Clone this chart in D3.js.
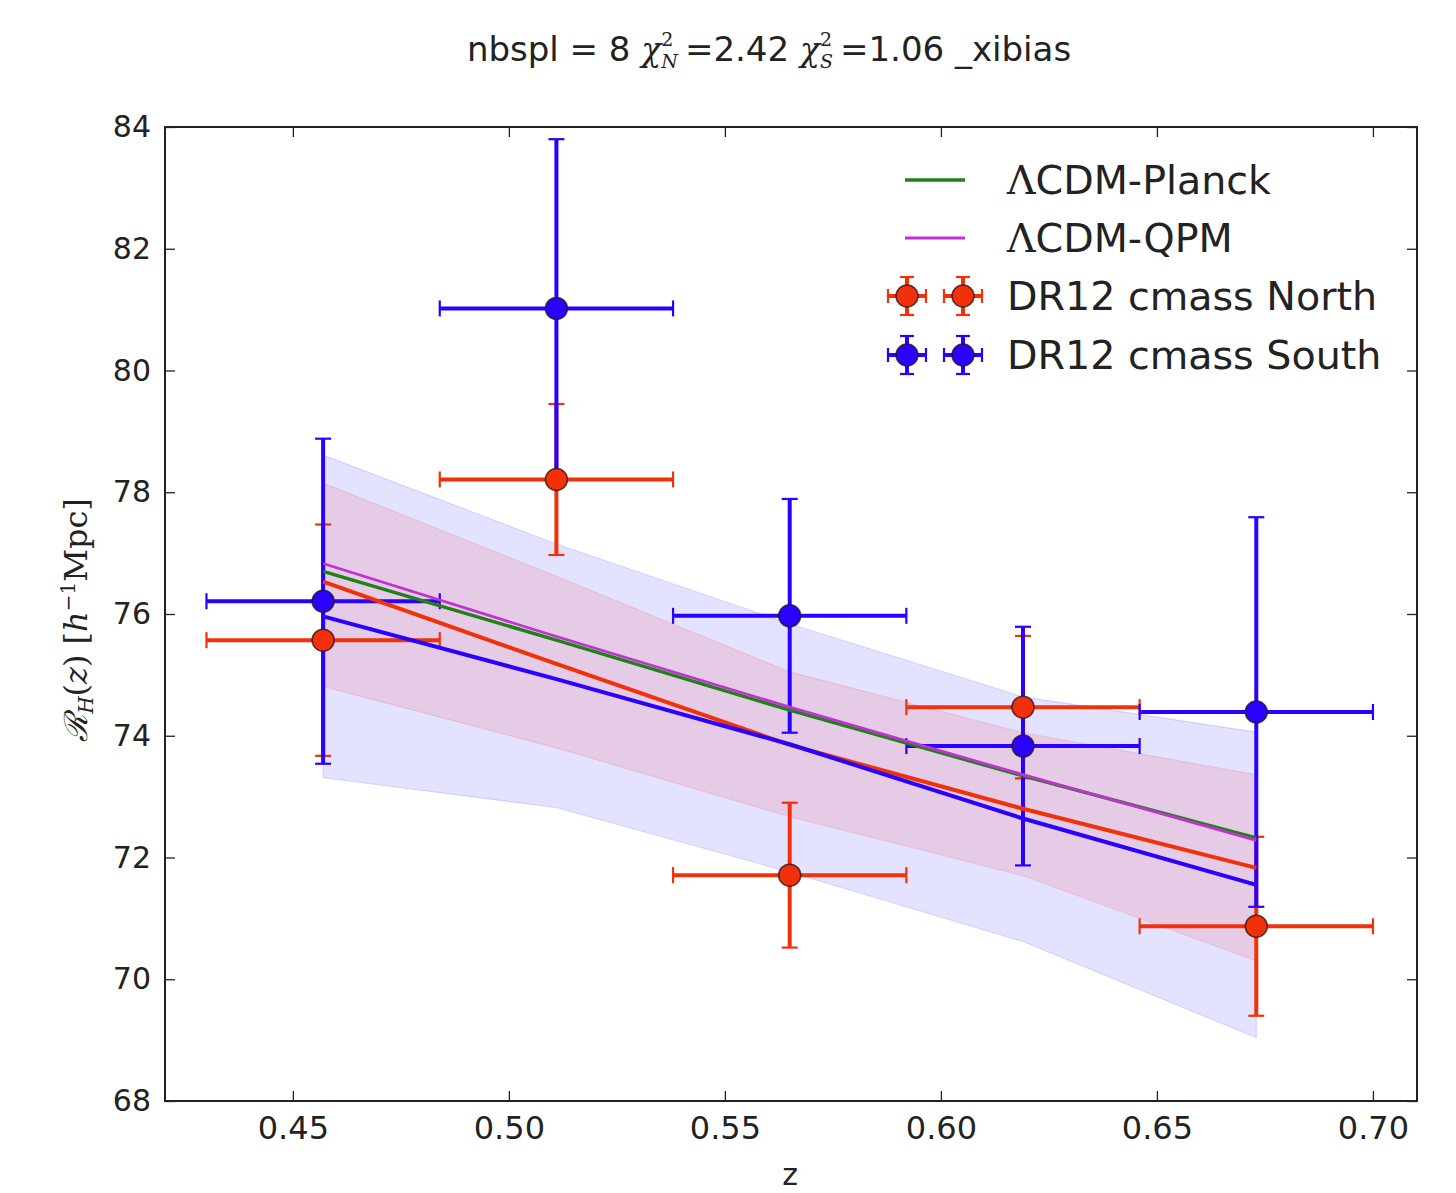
<!DOCTYPE html>
<html>
<head>
<meta charset="utf-8">
<script src="https://cdn.jsdelivr.net/npm/d3@7/dist/d3.min.js"></script>
<style>
  html, body { margin: 0; padding: 0; background: #fff; }
  svg { display: block; }
  text { white-space: pre; }
</style>
</head>
<body>
<svg id="chart" width="1456" height="1193"></svg>
<script>
// ---------------- data ----------------
const zBins = [0.457, 0.511, 0.565, 0.619, 0.673];
const zHalfWidth = [0.027, 0.027, 0.027, 0.027, 0.027];

const northValues = [75.57, 78.21, 71.71, 74.47, 70.87];
const northErrors = [1.90, 1.24, 1.19, 1.17, 1.47];
const southValues = [76.21, 81.02, 75.97, 73.83, 74.39];
const southErrors = [2.67, 2.78, 1.92, 1.96, 3.20];

const planckModel = [76.70, 75.57, 74.42, 73.34, 72.32];
const qpmModel    = [76.83, 75.63, 74.47, 73.36, 72.28];
const northFit    = [76.53, 75.18, 73.85, 72.80, 71.83];
const southFit    = [75.96, 74.93, 73.86, 72.64, 71.55];

const southBandLow  = [73.31, 72.82, 71.76, 70.62, 69.04];
const southBandHigh = [78.61, 77.15, 75.84, 74.64, 74.06];
const northBandLow  = [74.81, 73.80, 72.67, 71.70, 70.30];
const northBandHigh = [78.15, 76.62, 75.05, 74.05, 73.36];

const xTicks = [0.45, 0.50, 0.55, 0.60, 0.65, 0.70];
const yTicks = [68, 70, 72, 74, 76, 78, 80, 82, 84];
const xDomain = [0.4204, 0.7102];
const yDomain = [68, 84];

const legendLabels = ["\u039BCDM-Planck", "\u039BCDM-QPM", "DR12 cmass North", "DR12 cmass South"];

// ---------------- styles ----------------
const RED = "#f2300a", BLUE = "#2a00ff", GREEN = "#1f8214", MAGENTA = "#c032d2";
const SANS = "'DejaVu Sans', Verdana, sans-serif";
const SERIF = "'DejaVu Serif', 'Liberation Serif', serif";

const margin = {left: 165, right: 1456 - 1417, top: 127, bottom: 1193 - 1101};
const W = 1456, H = 1193;
const svg = d3.select("#chart");

const x = d3.scaleLinear().domain(xDomain).range([margin.left, W - margin.right]);
const y = d3.scaleLinear().domain(yDomain).range([H - margin.bottom, margin.top]);

const clipId = "plotclip";
svg.append("defs").append("clipPath").attr("id", clipId)
  .append("rect").attr("x", x.range()[0]).attr("y", y.range()[1])
  .attr("width", x.range()[1] - x.range()[0]).attr("height", y.range()[0] - y.range()[1]);

const plot = svg.append("g").attr("clip-path", `url(#${clipId})`);

// ---------------- bands ----------------
function band(lo, hi, color, op) {
  const area = d3.area().x((d, i) => x(zBins[i])).y0((d, i) => y(lo[i])).y1((d, i) => y(hi[i]));
  plot.append("path").datum(zBins).attr("d", area)
    .attr("fill", color).attr("fill-opacity", op)
    .attr("stroke", color).attr("stroke-opacity", op * 1.1).attr("stroke-width", 1.2);
}
band(southBandLow, southBandHigh, "#0000ff", 0.11);
band(northBandLow, northBandHigh, "#ff0000", 0.10);

// ---------------- error bars ----------------
function errorBars(vals, errs, color) {
  const g = plot.append("g");
  zBins.forEach((z, i) => {
    const cx = x(z), cy = y(vals[i]);
    const x0 = x(z - zHalfWidth[i]), x1 = x(z + zHalfWidth[i]);
    const y0 = y(vals[i] - errs[i]), y1 = y(vals[i] + errs[i]);
    g.append("line").attr("x1", x0).attr("x2", x1).attr("y1", cy).attr("y2", cy)
      .attr("stroke", color).attr("stroke-width", 4);
    g.append("line").attr("x1", cx).attr("x2", cx).attr("y1", y0).attr("y2", y1)
      .attr("stroke", color).attr("stroke-width", 4);
    [x0, x1].forEach(xx => g.append("line").attr("x1", xx).attr("x2", xx)
      .attr("y1", cy - 8).attr("y2", cy + 8).attr("stroke", color).attr("stroke-width", 2.2));
    [y0, y1].forEach(yy => g.append("line").attr("x1", cx - 8).attr("x2", cx + 8)
      .attr("y1", yy).attr("y2", yy).attr("stroke", color).attr("stroke-width", 2.2));
  });
}
function markers(vals, color) {
  plot.append("g").selectAll("circle").data(vals).join("circle")
    .attr("cx", (d, i) => x(zBins[i])).attr("cy", d => y(d)).attr("r", 11)
    .attr("fill", color).attr("stroke", "rgba(40,20,20,0.75)").attr("stroke-width", 1.5);
}
errorBars(northValues, northErrors, RED);
errorBars(southValues, southErrors, BLUE);

// ---------------- model lines ----------------
function modelLine(vals, color, w) {
  const line = d3.line().x((d, i) => x(zBins[i])).y(d => y(d));
  plot.append("path").datum(vals).attr("d", line)
    .attr("fill", "none").attr("stroke", color).attr("stroke-width", w);
}
modelLine(planckModel, GREEN, 3.5);
modelLine(qpmModel, MAGENTA, 2.8);
modelLine(northFit, RED, 4);
modelLine(southFit, BLUE, 4);

markers(northValues, RED);
markers(southValues, BLUE);

// ---------------- axes ----------------
const axisColor = "#222";
const gx = svg.append("g").attr("transform", `translate(0,${y.range()[0]})`)
  .call(d3.axisBottom(x).tickValues(xTicks).tickFormat(d3.format(".2f"))
    .tickSizeInner(-10).tickSizeOuter(0).tickPadding(15));
const gxt = svg.append("g").attr("transform", `translate(0,${y.range()[1]})`)
  .call(d3.axisTop(x).tickValues(xTicks).tickFormat("").tickSizeInner(-10).tickSizeOuter(0));
const gy = svg.append("g").attr("transform", `translate(${x.range()[0]},0)`)
  .call(d3.axisLeft(y).tickValues(yTicks).tickFormat(d3.format("d"))
    .tickSizeInner(-10).tickSizeOuter(0).tickPadding(14));
const gyr = svg.append("g").attr("transform", `translate(${x.range()[1]},0)`)
  .call(d3.axisRight(y).tickValues(yTicks).tickFormat("").tickSizeInner(-10).tickSizeOuter(0));

[gx, gxt, gy, gyr].forEach(g => {
  g.select(".domain").remove();
  g.selectAll(".tick line").attr("stroke", axisColor).attr("stroke-width", 1.3);
  g.selectAll(".tick text").attr("fill", "#222").style("font-family", SANS).style("font-size", "30px");
});
gx.selectAll(".tick text").style("font-size", "32px");

svg.append("rect").attr("x", x.range()[0]).attr("y", y.range()[1])
  .attr("width", x.range()[1] - x.range()[0]).attr("height", y.range()[0] - y.range()[1])
  .attr("fill", "none").attr("stroke", axisColor).attr("stroke-width", 2);

// ---------------- axis labels ----------------
svg.append("text").attr("x", (x.range()[0] + x.range()[1]) / 2 - 1).attr("y", 1185)
  .attr("text-anchor", "middle").style("font-family", SANS).style("font-size", "30px")
  .attr("fill", "#222").text("z");

const yl = svg.append("text")
  .attr("transform", `translate(87,${(y.range()[0] + y.range()[1]) / 2 + 6}) rotate(-90)`)
  .attr("text-anchor", "middle").style("font-family", SERIF).style("font-size", "32px").attr("fill", "#222");
yl.append("tspan").style("font-style", "italic").text("\u211B");
yl.append("tspan").attr("dy", 6).style("font-size", "20px").style("font-style", "italic").text("H");
yl.append("tspan").attr("dy", -6).text("(");
yl.append("tspan").style("font-style", "italic").text("z");
yl.append("tspan").text(") [");
yl.append("tspan").style("font-style", "italic").text("h");
yl.append("tspan").attr("dy", -12).style("font-size", "20px").text("\u22121");
yl.append("tspan").attr("dy", 12).text("Mpc]");

// ---------------- title ----------------
const title = svg.append("g");
let cursor = 0;
const titleY = 61;
function piece(txt, font, size, style, dy) {
  const t = title.append("text").attr("x", cursor).attr("y", titleY + (dy || 0))
    .attr("xml:space", "preserve")
    .style("font-family", font).style("font-size", size + "px").style("font-style", style || "normal")
    .attr("fill", "#222").text(txt);
  return t.node().getComputedTextLength();
}
function chi(sub) {
  cursor += piece("\u03C7", SERIF, 33, "italic");
  const w1 = piece("2", SERIF, 19, "normal", -15);
  const w2 = piece(sub, SERIF, 19, "italic", 7);
  cursor += Math.max(w1, w2) + 7;
}
cursor += piece("nbspl = 8 ", SANS, 34);
chi("N");
cursor += piece("=2.42 ", SANS, 34);
chi("S");
cursor += piece("=1.06 _xibias", SANS, 34);
title.attr("transform", `translate(${769 - cursor / 2},0)`);

// ---------------- legend ----------------
const leg = svg.append("g");
const legRows = [180, 238, 296, 355];
const legTextX = 1007;
[[GREEN, 3.5], [MAGENTA, 2.8]].forEach(([c, w], i) => {
  leg.append("line").attr("x1", 905).attr("x2", 965).attr("y1", legRows[i]).attr("y2", legRows[i])
    .attr("stroke", c).attr("stroke-width", w);
});
[RED, BLUE].forEach((c, k) => {
  const yy = legRows[k + 2];
  [907, 963].forEach(cx => {
    leg.append("line").attr("x1", cx - 19).attr("x2", cx + 19).attr("y1", yy).attr("y2", yy)
      .attr("stroke", c).attr("stroke-width", 4);
    leg.append("line").attr("x1", cx).attr("x2", cx).attr("y1", yy - 19).attr("y2", yy + 19)
      .attr("stroke", c).attr("stroke-width", 4);
    [cx - 19, cx + 19].forEach(xx => leg.append("line").attr("x1", xx).attr("x2", xx)
      .attr("y1", yy - 7).attr("y2", yy + 7).attr("stroke", c).attr("stroke-width", 2.2));
    [yy - 19, yy + 19].forEach(y2 => leg.append("line").attr("x1", cx - 7).attr("x2", cx + 7)
      .attr("y1", y2).attr("y2", y2).attr("stroke", c).attr("stroke-width", 2.2));
    leg.append("circle").attr("cx", cx).attr("cy", yy).attr("r", 11)
      .attr("fill", c).attr("stroke", "rgba(40,20,20,0.75)").attr("stroke-width", 1.5);
  });
});
legendLabels.forEach((lab, i) => {
  const t = leg.append("text").attr("x", legTextX).attr("y", legRows[i] + 14)
    .style("font-family", SANS).style("font-size", "39.6px").attr("fill", "#222");
  if (lab.startsWith("\u039B")) {
    t.append("tspan").style("font-family", SERIF).text("\u039B");
    t.append("tspan").text(lab.slice(1));
  } else {
    t.text(lab);
  }
});
</script>
</body>
</html>
